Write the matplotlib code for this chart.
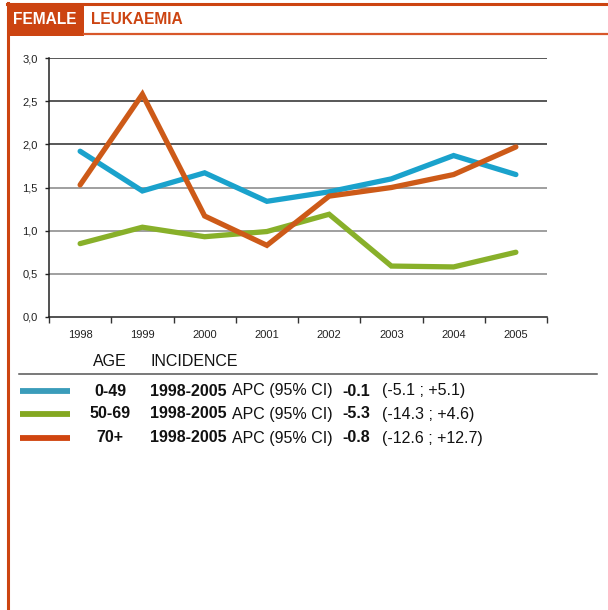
import matplotlib
matplotlib.use("Agg")
import matplotlib.pyplot as plt
from matplotlib.lines import Line2D
from matplotlib.patches import Rectangle

plt.rcParams['font.family'] = ['Liberation Sans', 'DejaVu Sans']

years = ["1998", "1999", "2000", "2001", "2002", "2003", "2004", "2005"]
age_groups = ["0-49", "50-69", "70+"]
rate_0_49 = [1.92, 1.46, 1.67, 1.34, 1.45, 1.60, 1.87, 1.65]
rate_50_69 = [0.85, 1.04, 0.93, 0.99, 1.19, 0.59, 0.58, 0.75]
rate_70p = [1.53, 2.58, 1.17, 0.83, 1.40, 1.50, 1.65, 1.97]
apc = ["-0.1", "-5.3", "-0.8"]
ci = ["(-5.1 ; +5.1)", "(-14.3 ; +4.6)", "(-12.6 ; +12.7)"]
yticks = [0.0, 0.5, 1.0, 1.5, 2.0, 2.5, 3.0]
ytick_labels = ["0,0", "0,5", "1,0", "1,5", "2,0", "2,5", "3,0"]
title_left = "FEMALE"
title_right = "LEUKAEMIA"

series = [rate_0_49, rate_50_69, rate_70p]
colors = ["#1aa2cc", "#88b02a", "#cd5a18"]
legend_colors = ["#3a9cba", "#84a821", "#d0450f"]
ORANGE = "#cc4411"

W, H = 608, 610
fig = plt.figure(figsize=(W / 100, H / 100), dpi=100)

def fx(x):
    return x / W

def fy(y):
    return 1 - y / H

# Header frame
fig.add_artist(Line2D([fx(7), fx(608)], [fy(3.5), fy(3.5)], color=ORANGE, lw=2.2))
fig.add_artist(Line2D([fx(84), fx(608)], [fy(33.5), fy(33.5)], color="#d8572a", lw=1.6))
fig.add_artist(Line2D([fx(8), fx(8)], [fy(3), fy(610)], color=ORANGE, lw=2.2))
fig.add_artist(Rectangle((fx(7), fy(36)), fx(84) - fx(7), fy(3) - fy(36),
                         facecolor=ORANGE, edgecolor="none"))
fig.text(fx(13), fy(19), title_left, color="white", fontsize=11.2, fontweight="bold",
         va="center", ha="left")
fig.text(fx(91), fy(19), title_right, color=ORANGE, fontsize=11.2, fontweight="bold",
         va="center", ha="left")

# Chart axes
ax = fig.add_axes([fx(49), fy(317), fx(547) - fx(49), fy(58) - fy(317)])
x = list(range(len(years)))
for s, c in zip(series, colors):
    ax.plot(x, s, color=c, lw=3.8, solid_capstyle="round", solid_joinstyle="miter", zorder=3)

ax.set_xlim(-0.5, len(years) - 0.5)
ax.set_ylim(0, 3.0)
for v in yticks[1:]:
    gc = "#2a2a2a" if v >= 2.0 else "#858585"
    ax.axhline(v, color=gc, lw=1.1, zorder=1)
ax.set_yticks(yticks)
ax.set_yticklabels(ytick_labels)
ax.set_xticks(x)
ax.set_xticklabels(years)
ax.set_xticks([i - 0.5 for i in range(len(years) + 1)], minor=True)
ax.tick_params(axis="x", which="major", length=0, pad=9, labelsize=8, colors="#222222")
ax.tick_params(axis="x", which="minor", length=4, width=1, color="#333333")
ax.tick_params(axis="y", which="major", length=3, width=1, pad=5, labelsize=8,
               colors="#222222")
for sp in ["top", "right"]:
    ax.spines[sp].set_visible(False)
ax.spines["left"].set_color("#222222")
ax.spines["bottom"].set_color("#222222")
ax.spines["left"].set_linewidth(1.1)
ax.spines["bottom"].set_linewidth(1.1)

# Legend table
fs = 11.5
fig.text(fx(110), fy(362), "AGE", fontsize=fs, ha="center", va="center", color="#111111")
fig.text(fx(150), fy(362), "INCIDENCE", fontsize=fs, ha="left", va="center", color="#111111")
fig.add_artist(Line2D([fx(19), fx(597)], [fy(374), fy(374)], color="#555555", lw=1.1))
rows_y = [391, 414, 438]
for i, yy in enumerate(rows_y):
    fig.add_artist(Line2D([fx(20), fx(70)], [fy(yy), fy(yy)], color=legend_colors[i], lw=4.2,
                          solid_capstyle="butt"))
    fig.text(fx(110), fy(yy), age_groups[i], fontsize=fs, fontweight="bold", ha="center",
             va="center", color="#111111")
    fig.text(fx(150), fy(yy), "1998-2005", fontsize=fs, fontweight="bold", ha="left",
             va="center", color="#111111")
    fig.text(fx(232), fy(yy), "APC (95% CI)", fontsize=fs, ha="left", va="center",
             color="#111111")
    fig.text(fx(342), fy(yy), apc[i], fontsize=fs, fontweight="bold", ha="left",
             va="center", color="#111111")
    fig.text(fx(382), fy(yy), ci[i], fontsize=fs, ha="left", va="center", color="#111111")

fig.savefig("out.png", dpi=100)
